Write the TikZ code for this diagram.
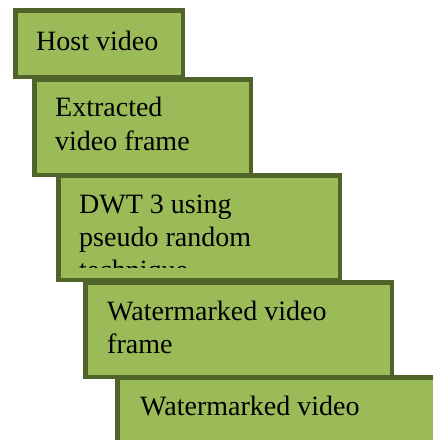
\documentclass[tikz,border=0pt]{standalone}
\usepackage{fontspec}
\setmainfont{Liberation Serif}
\definecolor{boxfill}{HTML}{9BBB59}
\definecolor{boxline}{HTML}{506329}
\begin{document}
\begin{tikzpicture}[x=1pt,y=-1pt,
  stepbox/.style={draw=boxline,fill=boxfill,line width=4.5pt,rectangle,inner sep=0pt,outer sep=0pt},
  lbl/.style={anchor=base west,inner sep=0pt,font=\fontsize{28}{33.5}\selectfont,text=black}]
\useasboundingbox (0,0) rectangle (433,440);
\begin{scope}
\clip (0,0) rectangle (433,440);
\node[stepbox,minimum width=167.5pt,minimum height=66.5pt] (b1) at (99,43.5) {};
\node[stepbox,minimum width=216.5pt,minimum height=95.5pt] (b2) at (142.5,127) {};
\node[stepbox,minimum width=281.5pt,minimum height=104.5pt] (b3) at (199,227.5) {};
\node[stepbox,minimum width=306.5pt,minimum height=94.5pt] (b4) at (238.5,329.5) {};
\node[stepbox,minimum width=350.5pt,minimum height=90.5pt] (b5) at (292.5,422.5) {};
\node[lbl] (t1) at (36,50) {Host video};
\node[lbl] (t2a) at (55,116) {Extracted};
\node[lbl] (t2b) at (55,150) {video frame};
\node[lbl] (t3a) at (79,213) {DWT 3 using};
\node[lbl] (t3b) at (79,246) {pseudo random};
\begin{scope}
\clip (60,255) rectangle (330,267);
\node[lbl] (t3c) at (79,279.5) {technique};
\end{scope}
\node[lbl] (t4a) at (107,320) {Watermarked video};
\node[lbl] (t4b) at (107,353) {frame};
\node[lbl] (t5) at (140,415) {Watermarked video};
\end{scope}
\end{tikzpicture}
\end{document}
